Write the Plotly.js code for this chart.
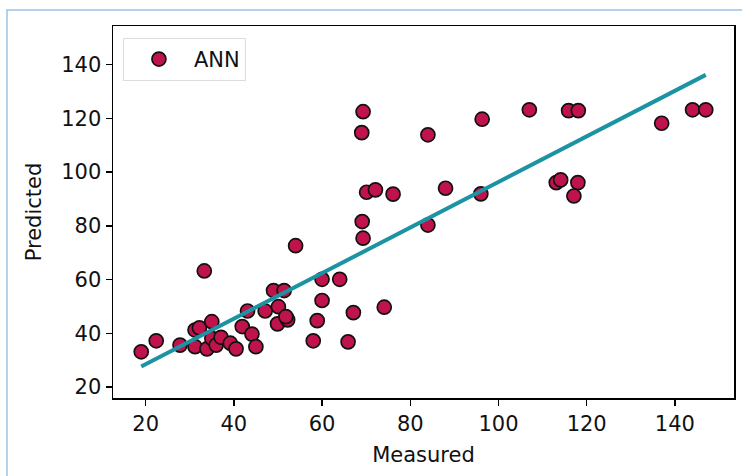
<!DOCTYPE html>
<html>
<head>
<meta charset="utf-8">
<script src="https://cdn.plot.ly/plotly-3.0.1.min.js"></script>
<style>html,body{margin:0;padding:0;background:#fff;}#chart{width:742px;height:476px;}</style>
</head>
<body>
<div id="chart"></div>
<script>
// Measured vs predicted values (ANN)
const measured = [19.0, 22.4, 27.8, 31.2, 32.2, 31.2, 33.9, 33.3, 35.0, 35.0, 36.0, 37.1, 39.2, 40.5,
  41.9, 43.1, 44.1, 45.0, 47.1, 49.0, 50.1, 51.4, 49.9, 52.2, 51.8, 54.0, 58.0, 58.9, 60.0, 60.0,
  64.0, 67.1, 65.9, 74.1, 69.3, 69.0, 69.1, 69.3, 70.1, 72.1, 76.1, 84.0, 84.0, 88.0, 96.0, 96.3,
  107.0, 113.1, 114.1, 115.9, 118.1, 118.0, 117.1, 137.0, 144.0, 147.0];
const predicted = [33.1, 37.2, 35.6, 41.2, 42.0, 35.0, 34.2, 63.2, 44.3, 38.1, 35.6, 38.5, 36.3, 34.2,
  42.5, 48.3, 39.7, 35.0, 48.3, 55.9, 49.9, 55.9, 43.5, 45.0, 46.2, 72.6, 37.2, 44.7, 52.2, 60.1,
  60.1, 47.7, 36.8, 49.7, 122.5, 114.7, 81.6, 75.4, 92.5, 93.4, 91.8, 113.9, 80.3, 94.0, 91.9, 119.7,
  123.2, 96.1, 97.1, 122.9, 122.9, 96.1, 91.1, 118.2, 123.2, 123.2];
// Fitted line endpoints
const fitX = [19.0, 147.0];
const fitY = [27.6, 136.2];
const xTicks = [20, 40, 60, 80, 100, 120, 140];
const yTicks = [20, 40, 60, 80, 100, 120, 140];

const font = "DejaVu Sans, sans-serif";

const traces = [
  {
    x: measured, y: predicted, type: 'scatter', mode: 'markers', name: 'ANN',
    marker: {size: 14, color: '#c0134b', line: {color: '#111111', width: 1.7}}
  },
  {
    x: fitX, y: fitY, type: 'scatter', mode: 'lines', showlegend: false,
    line: {color: '#1b93a3', width: 4}
  }
];

const axisCommon = {
  showgrid: false, zeroline: false, showline: true, linecolor: '#000', linewidth: 1.5,
  mirror: true, ticks: 'outside', ticklen: 6, tickwidth: 1.5, tickcolor: '#000',
  tickfont: {family: font, size: 21, color: '#111'}
};

const layout = {
  width: 742, height: 476,
  margin: {l: 113, r: 8, t: 26, b: 78},
  paper_bgcolor: '#fff', plot_bgcolor: '#fff',
  font: {family: font, color: '#111'},
  xaxis: Object.assign({}, axisCommon, {
    range: [12.6, 153.4], tickvals: xTicks, ticktext: xTicks.map(String),
    title: {text: 'Measured', font: {family: font, size: 21, color: '#111'}, standoff: 12}
  }),
  yaxis: Object.assign({}, axisCommon, {
    range: [15.9, 154.4], tickvals: yTicks, ticktext: yTicks.map(String),
    title: {text: 'Predicted', font: {family: font, size: 21, color: '#111'}, standoff: 14}
  }),
  legend: {
    x: 0.016, y: 0.968, xanchor: 'left', yanchor: 'top',
    bgcolor: '#fff', bordercolor: '#dddddd', borderwidth: 1,
    font: {family: font, size: 21, color: '#111'}, itemwidth: 60
  },
  shapes: [{
    type: 'rect', xref: 'paper', yref: 'paper',
    x0: -0.1707, x1: 1.2, y0: -0.4, y1: 1.043,
    line: {color: '#9cc3e8', width: 1.5}, fillcolor: 'rgba(0,0,0,0)', layer: 'below'
  }]
};

Plotly.newPlot('chart', traces, layout, {displayModeBar: false, staticPlot: true});
</script>
</body>
</html>
